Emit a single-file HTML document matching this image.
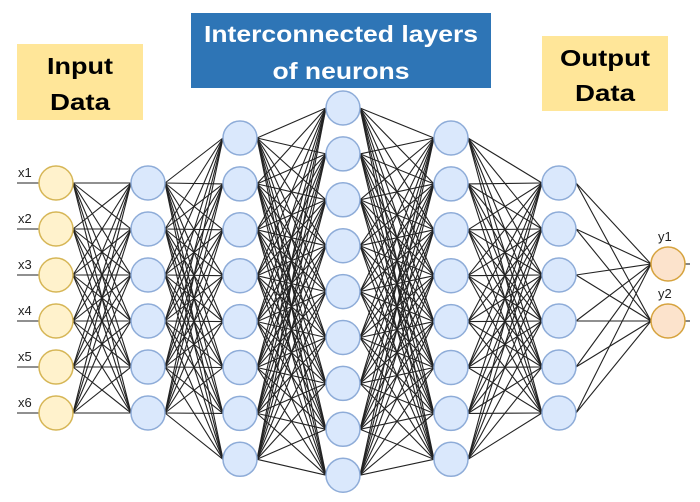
<!DOCTYPE html>
<html><head><meta charset="utf-8"><style>
html,body{margin:0;padding:0;background:#fff;width:700px;height:502px;overflow:hidden}
svg{display:block}
text{font-family:"Liberation Sans",sans-serif}
</style></head><body>
<svg id="s" width="700" height="502" viewBox="0 0 700 502" xmlns="http://www.w3.org/2000/svg">
<rect x="17" y="44" width="126" height="76" fill="#FFE699"/>
<text x="80" y="74" font-size="23" font-weight="bold" text-anchor="middle" textLength="66" lengthAdjust="spacingAndGlyphs">Input</text>
<text x="80" y="110" font-size="23" font-weight="bold" text-anchor="middle" textLength="60" lengthAdjust="spacingAndGlyphs">Data</text>
<rect x="191" y="13" width="300" height="75" fill="#2E75B6"/>
<text x="341" y="42" font-size="23" font-weight="bold" fill="#fff" text-anchor="middle" textLength="274" lengthAdjust="spacingAndGlyphs">Interconnected layers</text>
<text x="341" y="79" font-size="23" font-weight="bold" fill="#fff" text-anchor="middle" textLength="137" lengthAdjust="spacingAndGlyphs">of neurons</text>
<rect x="542" y="36" width="126" height="75" fill="#FFE699"/>
<text x="605" y="66" font-size="23" font-weight="bold" text-anchor="middle" textLength="90" lengthAdjust="spacingAndGlyphs">Output</text>
<text x="605" y="101" font-size="23" font-weight="bold" text-anchor="middle" textLength="60" lengthAdjust="spacingAndGlyphs">Data</text>
<g id="lines" stroke="#222" stroke-width="1.1"></g>
<g id="nodes"></g>
</svg>
<script>
var L=[[56,6,183,46],[148,6,183,46],[240,8,138,45.9],[343,9,108,45.9],[451,8,138,45.9],[559,6,183,46],[668,2,264,57]];
var R=17,ns="http://www.w3.org/2000/svg";
var lg=document.getElementById('lines'),ng=document.getElementById('nodes');
function el(t,a,p){var e=document.createElementNS(ns,t);for(var k in a)e.setAttribute(k,a[k]);p.appendChild(e);return e;}
function ys(l){var r=[];for(var i=0;i<l[1];i++)r.push(l[2]+i*l[3]);return r;}
for(var i=0;i<L.length-1;i++){var a=ys(L[i]),b=ys(L[i+1]);
 a.forEach(function(y1){b.forEach(function(y2){el('line',{x1:L[i][0]+R,y1:y1,x2:L[i+1][0]-R,y2:y2},lg);});});}
var xl=['x1','x2','x3','x4','x5','x6'];
ys(L[0]).forEach(function(y,j){el('line',{x1:17,y1:y,x2:39,y2:y},lg);
 var t=el('text',{x:18,y:y-6,'font-size':13,fill:'#222'},ng);t.textContent=xl[j];});
ys(L[6]).forEach(function(y,j){el('line',{x1:685,y1:y,x2:690,y2:y},lg);
 var t=el('text',{x:658,y:y-23,'font-size':13,fill:'#222'},ng);t.textContent='y'+(j+1);});
L.forEach(function(l,i){var f='#DAE8FC',s='#8EACD8';
 if(i==0){f='#FFF2CC';s='#D6B656';} if(i==6){f='#FCE3CC';s='#D6A33E';}
 ys(l).forEach(function(y){el('circle',{cx:l[0],cy:y,r:R,fill:f,stroke:s,'stroke-width':1.5},ng);});});
</script>
</body></html>
